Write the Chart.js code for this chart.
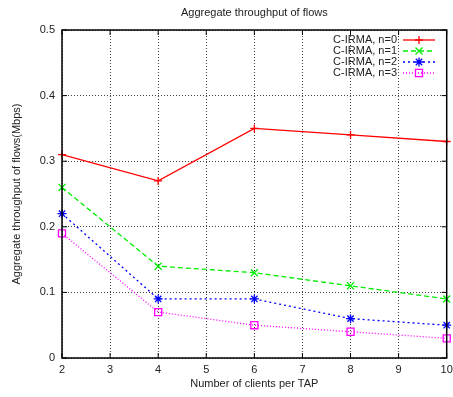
<!DOCTYPE html>
<html>
<head>
<meta charset="utf-8">
<script src="https://cdn.jsdelivr.net/npm/chart.js@4"></script>
<style>
  html, body { margin: 0; padding: 0; background: #fff; }
  #wrap { width: 453px; height: 397px; }
</style>
</head>
<body>
<div id="wrap"><canvas id="chart" width="453" height="397"></canvas></div>
<script>
// data
const clients = [2, 4, 6, 8, 10];
const n0 = [0.31, 0.27, 0.35, 0.34, 0.33];
const n1 = [0.26, 0.14, 0.13, 0.11, 0.09];
const n2 = [0.22, 0.09, 0.09, 0.06, 0.05];
const n3 = [0.19, 0.07, 0.05, 0.04, 0.03];
const seriesNames = ['C-IRMA, n=0', 'C-IRMA, n=1', 'C-IRMA, n=2', 'C-IRMA, n=3'];
const xTicks = [2, 3, 4, 5, 6, 7, 8, 9, 10];
const yTicks = [0, 0.1, 0.2, 0.3, 0.4, 0.5];

const FONT = "'Liberation Sans', Arial, Helvetica, sans-serif";
const TEXT = '#222';

const toPoints = (ys) => clients.map((x, i) => ({ x: x, y: ys[i] }));

const styles = [
  { color: '#ff0000', dash: [], point: 'cross', r: 4 },
  { color: '#00ee00', dash: [5, 3], point: 'crossRot', r: 5 },
  { color: '#0000ff', dash: [2, 3], point: 'star', r: 4.5 },
  { color: '#ff00ff', dash: [1, 2], point: 'rect', r: 5 },
];

const datasets = [n0, n1, n2, n3].map((ys, i) => ({
  label: seriesNames[i],
  data: toPoints(ys),
  borderColor: styles[i].color,
  borderWidth: 1.3,
  borderDash: styles[i].dash,
  pointStyle: styles[i].point,
  pointRadius: styles[i].r,
  pointBorderColor: styles[i].color,
  pointBackgroundColor: 'rgba(0,0,0,0)',
  pointBorderWidth: 1.3,
  tension: 0,
  clip: false,
}));

// frame, inward tick marks, title and gnuplot-like legend
const gnuplotLook = {
  id: 'gnuplotLook',
  afterDatasetsDraw(chart) {
    const { ctx, chartArea: a, scales } = chart;
    ctx.save();
    ctx.strokeStyle = '#000';
    ctx.lineWidth = 1;
    ctx.setLineDash([]);
    xTicks.forEach((v) => {
      const px = scales.x.getPixelForValue(v);
      ctx.beginPath();
      ctx.moveTo(px, a.bottom); ctx.lineTo(px, a.bottom - 5);
      ctx.moveTo(px, a.top); ctx.lineTo(px, a.top + 5);
      ctx.stroke();
    });
    yTicks.forEach((v) => {
      const py = scales.y.getPixelForValue(v);
      ctx.beginPath();
      ctx.moveTo(a.left, py); ctx.lineTo(a.left + 5, py);
      ctx.moveTo(a.right, py); ctx.lineTo(a.right - 5, py);
      ctx.stroke();
    });
    ctx.lineWidth = 1.5;
    ctx.strokeRect(a.left, a.top, a.right - a.left, a.bottom - a.top);

    ctx.fillStyle = TEXT;
    ctx.font = '11px ' + FONT;
    ctx.textAlign = 'center';
    ctx.textBaseline = 'middle';
    ctx.fillText('Aggregate throughput of flows', (a.left + a.right) / 2, 13);

    // legend
    const textRight = 397, lineL = 403, lineR = 435;
    chart.data.datasets.forEach((ds, i) => {
      const y = 40 + i * 11;
      ctx.fillStyle = TEXT;
      ctx.textAlign = 'right';
      ctx.fillText(ds.label, textRight, y);
      ctx.strokeStyle = ds.borderColor;
      ctx.lineWidth = ds.borderWidth;
      ctx.setLineDash(ds.borderDash);
      ctx.beginPath();
      ctx.moveTo(lineL, y); ctx.lineTo(lineR, y);
      ctx.stroke();
      ctx.setLineDash([]);
      ctx.fillStyle = 'rgba(0,0,0,0)';
      ctx.strokeStyle = ds.pointBorderColor;
      ctx.lineWidth = ds.pointBorderWidth;
      Chart.helpers.drawPoint(ctx, {
        pointStyle: ds.pointStyle,
        radius: ds.pointRadius,
        borderWidth: ds.pointBorderWidth,
        rotation: 0,
      }, (lineL + lineR) / 2, y);
    });
    ctx.restore();
  },
};

new Chart('chart', {
  type: 'line',
  data: { datasets: datasets },
  options: {
    responsive: false,
    animation: false,
    layout: { padding: { top: 30, right: 5, bottom: 0, left: 0 } },
    plugins: {
      legend: { display: false },
      tooltip: { enabled: false },
    },
    scales: {
      x: {
        type: 'linear',
        min: 2,
        max: 10,
        afterFit: (scale) => {
          scale.height = 39;
          scale.paddingLeft = 0;
          scale.paddingRight = 0;
        },
        ticks: {
          stepSize: 1,
          padding: 5,
          color: TEXT,
          font: { family: FONT, size: 11 },
          maxRotation: 0,
          autoSkip: false,
        },
        grid: { color: 'rgba(0,0,0,0.75)', lineWidth: 1, drawTicks: false },
        border: { display: false, dash: [1, 2] },
        title: {
          display: true,
          text: 'Number of clients per TAP',
          color: TEXT,
          font: { family: FONT, size: 11 },
          padding: { top: 4, bottom: 6 },
        },
      },
      y: {
        min: 0,
        max: 0.5,
        afterFit: (scale) => { scale.width = 62; },
        ticks: {
          stepSize: 0.1,
          padding: 7,
          color: TEXT,
          font: { family: FONT, size: 11 },
          callback: (v) => (v === 0 ? '0' : Number(v).toFixed(1)),
        },
        grid: { color: 'rgba(0,0,0,0.75)', lineWidth: 1, drawTicks: false },
        border: { display: false, dash: [1, 2] },
        title: {
          display: true,
          text: 'Aggregate throughput of flows(Mbps)',
          color: TEXT,
          font: { family: FONT, size: 11 },
          padding: { top: 10, bottom: 0 },
        },
      },
    },
  },
  plugins: [gnuplotLook],
});
</script>
</body>
</html>
